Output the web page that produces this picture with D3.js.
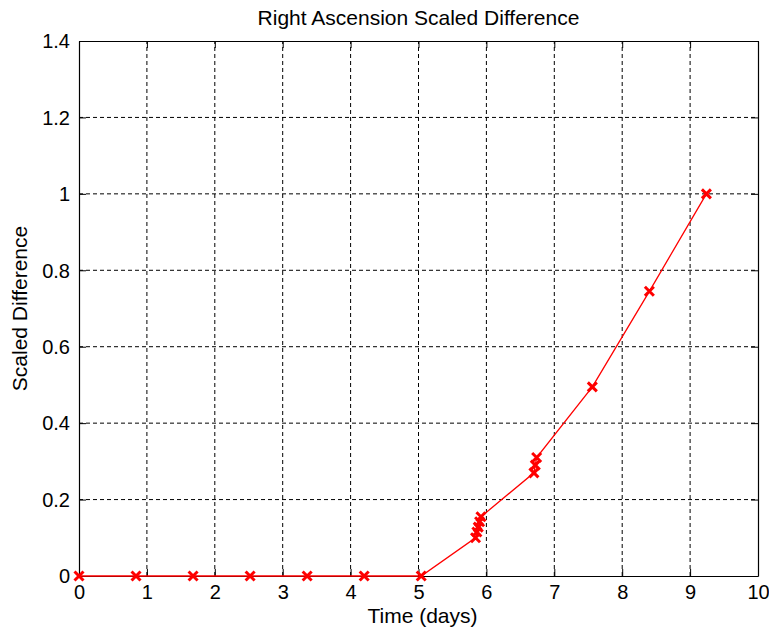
<!DOCTYPE html>
<html>
<head>
<meta charset="utf-8">
<script src="https://cdn.jsdelivr.net/npm/d3@7"></script>
<style>
body { margin: 0; background: #fff; }
text { font-family: "Liberation Sans", Arial, sans-serif; fill: #000; }
</style>
</head>
<body>
<script>
// data
const timeDays = [0, 0.84, 1.68, 2.52, 3.36, 4.2, 5.04, 5.84, 5.86, 5.88, 5.9, 5.92, 6.7, 6.72, 6.74, 7.56, 8.4, 9.24];
const scaledDiff = [0, 0, 0, 0, 0, 0, 0, 0.1, 0.115, 0.128, 0.142, 0.155, 0.27, 0.29, 0.31, 0.495, 0.745, 1.0];
const xTicks = [0, 1, 2, 3, 4, 5, 6, 7, 8, 9, 10];
const yTicks = [0, 0.2, 0.4, 0.6, 0.8, 1, 1.2, 1.4];

const width = 769, height = 634;
const margin = { left: 79, right: 11, top: 41, bottom: 58 };

const svg = d3.select('body').append('svg').attr('width', width).attr('height', height);

const x = d3.scaleLinear().domain([0, 10]).range([margin.left, width - margin.right]);
const y = d3.scaleLinear().domain([0, 1.4]).range([height - margin.bottom, margin.top]);

// grid
svg.append('g').selectAll('line').data(xTicks.slice(1, -1)).enter().append('line')
  .attr('x1', d => x(d)).attr('x2', d => x(d))
  .attr('y1', y(0)).attr('y2', y(1.4))
  .attr('stroke', '#000').attr('stroke-dasharray', '4,3').attr('stroke-width', 1);
svg.append('g').selectAll('line').data(yTicks.slice(1, -1)).enter().append('line')
  .attr('y1', d => y(d)).attr('y2', d => y(d))
  .attr('x1', x(0)).attr('x2', x(10))
  .attr('stroke', '#000').attr('stroke-dasharray', '4,3').attr('stroke-width', 1);

// axes, ticks inside
const xAxis = svg.append('g').attr('transform', `translate(0,${y(0)})`)
  .call(d3.axisBottom(x).tickValues(xTicks).tickSizeInner(-7).tickSizeOuter(0).tickPadding(9).tickFormat(d3.format('')));
const yAxis = svg.append('g').attr('transform', `translate(${x(0)},0)`)
  .call(d3.axisLeft(y).tickValues(yTicks).tickSizeInner(-7).tickSizeOuter(0).tickPadding(9).tickFormat(d3.format('')));
svg.append('g').attr('transform', `translate(0,${y(1.4)})`)
  .call(d3.axisTop(x).tickValues(xTicks).tickSizeInner(-7).tickSizeOuter(0).tickFormat(''));
svg.append('g').attr('transform', `translate(${x(10)},0)`)
  .call(d3.axisRight(y).tickValues(yTicks).tickSizeInner(-7).tickSizeOuter(0).tickFormat(''));
svg.selectAll('.domain').attr('stroke', '#000').attr('stroke-width', 1.2);
svg.selectAll('.tick text').style('font-size', '20px').style('font-family', '"Liberation Sans", Arial, sans-serif');
xAxis.selectAll('.tick text').attr('dy', '0.71em');
yAxis.selectAll('.tick text').attr('dy', '0.34em');

// line
const pts = timeDays.map((t, i) => [t, scaledDiff[i]]);
svg.append('path').datum(pts)
  .attr('fill', 'none').attr('stroke', '#ff0000').attr('stroke-width', 1.3)
  .attr('d', d3.line().x(d => x(d[0])).y(d => y(d[1])));

// x markers
const m = svg.append('g');
pts.forEach(d => {
  const cx = x(d[0]), cy = y(d[1]), s = 4.5;
  m.append('path')
    .attr('d', `M${cx - s},${cy - s}L${cx + s},${cy + s}M${cx - s},${cy + s}L${cx + s},${cy - s}`)
    .attr('stroke', '#ff0000').attr('stroke-width', 3).attr('fill', 'none');
});

// labels
svg.append('text').attr('x', x(5)).attr('y', 25).attr('text-anchor', 'middle')
  .style('font-size', '21px').text('Right Ascension Scaled Difference');
svg.append('text').attr('x', x(5) + 4).attr('y', 623).attr('text-anchor', 'middle')
  .style('font-size', '21px').text('Time (days)');
svg.append('text').attr('transform', `translate(27,${y(0.7)}) rotate(-90)`).attr('text-anchor', 'middle')
  .style('font-size', '21px').text('Scaled Difference');
</script>
</body>
</html>
